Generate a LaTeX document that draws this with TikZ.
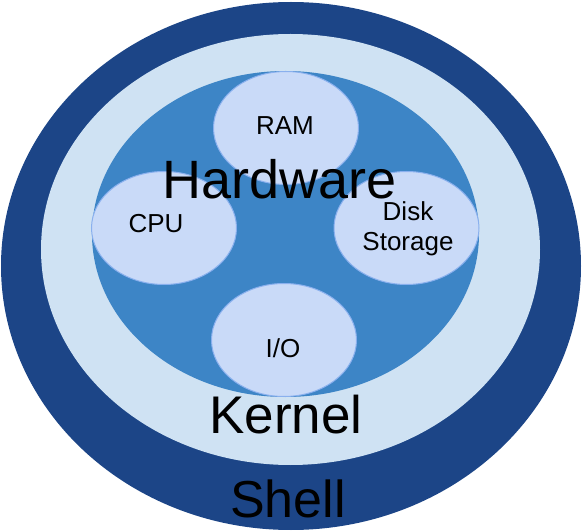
\documentclass[tikz,border=0pt]{standalone}
\usepackage{fontspec}
\setmainfont{Liberation Sans}
\usepackage{tikz}
\usetikzlibrary{shapes.geometric}

\definecolor{shellblue}{HTML}{1C4587}
\definecolor{kernelblue}{HTML}{CFE2F3}
\definecolor{hwblue}{HTML}{3D85C6}
\definecolor{partblue}{HTML}{C9DAF8}
\definecolor{partline}{HTML}{8AB0EE}

\begin{document}
\begin{tikzpicture}[x=1pt,y=-1pt,
    layer/.style={ellipse, inner sep=0pt},
    part/.style={ellipse, inner sep=0pt, fill=partblue, draw=partline, line width=1pt,
                 minimum width=145pt, minimum height=113pt},
    big/.style={anchor=base, font=\fontsize{53}{53}\selectfont},
    small/.style={anchor=base, font=\fontsize{26}{28}\selectfont, align=center}]
    \useasboundingbox (0,0) rectangle (582,532);

    % Schichten
    \node[layer, fill=shellblue, minimum width=580pt, minimum height=528pt] (shell) at (291,266) {};
    \node[layer, fill=kernelblue, minimum width=499pt, minimum height=431pt] (kernel) at (290.5,249.5) {};
    \node[layer, fill=hwblue, minimum width=387pt, minimum height=326pt] (hw) at (285.5,234) {};

    % Bauteile
    \foreach \name/\x/\y in {ram/286/128, cpu/164/228, disk/406.5/228, io/284/340} {
        \node[part] (\name) at (\x,\y) {};
    }

    % Beschriftungen
    \node[small] (ramlabel) at (285,135) {RAM};
    \node[small] (cpulabel) at (156,233) {CPU};
    \node[small] (disklabel) at (408,221) {Disk};
    \node[small] (storagelabel) at (408,251) {Storage};
    \node[small] (iolabel) at (283,357) {I/O};
    \node[big, font=\fontsize{54}{54}\selectfont] (hwlabel) at (280,199) {Hardware};
    \node[big] (kernellabel) at (286,433) {Kernel};
    \node[big, font=\fontsize{52}{52}\selectfont] (shelllabel) at (288,517) {Shell};
\end{tikzpicture}
\end{document}
